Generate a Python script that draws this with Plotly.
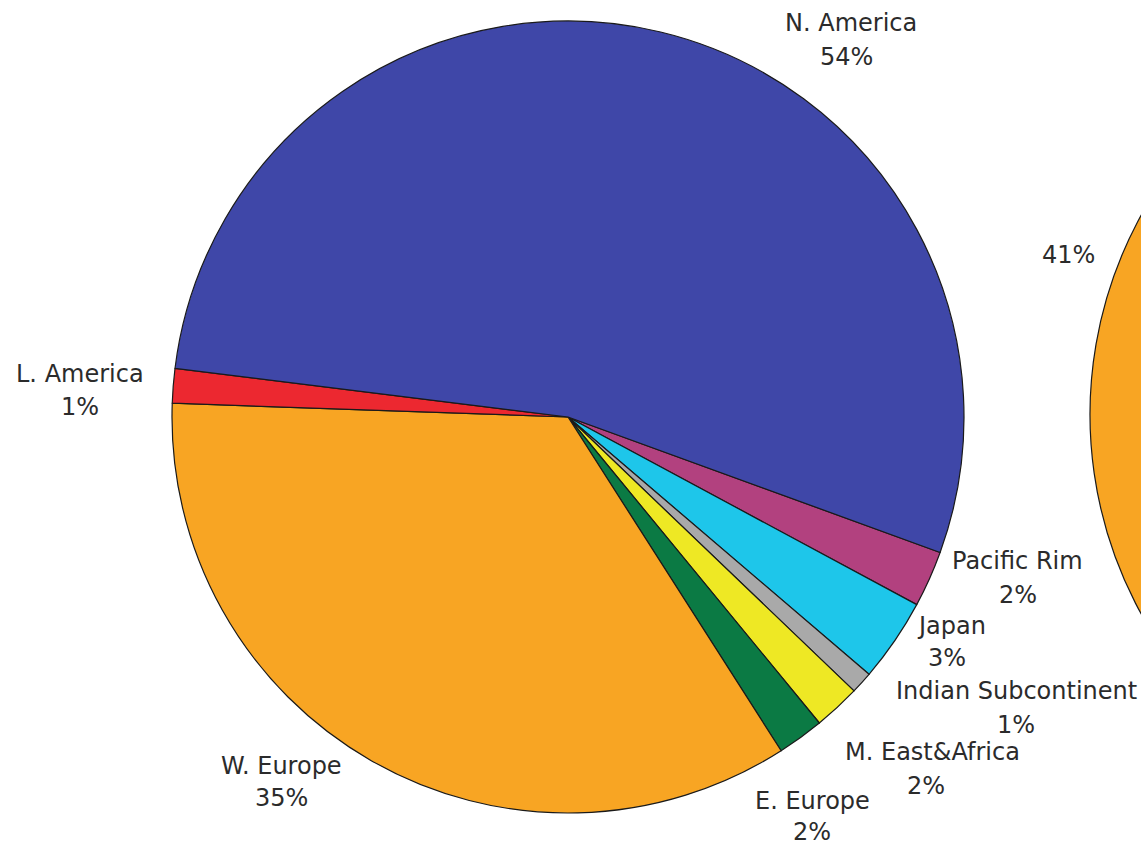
import plotly.graph_objects as go

# ---- data ----
regions = ["Pacific Rim", "Japan", "Indian Subcontinent", "M. East&Africa",
           "E. Europe", "W. Europe", "L. America", "N. America"]
shares = [2.3, 3.4, 0.9, 1.9, 1.9, 34.6, 1.4, 53.6]
colors = ["#B2417F", "#1EC6EA", "#A9A9A9", "#EEE824",
          "#0B7A44", "#F8A523", "#EC2830", "#3F47A8"]

# second (cropped) pie: only the W. Europe slice is visible
regions2 = ["W. Europe", "Other regions"]
shares2 = [41, 59]
colors2 = ["#F8A523", "#3F47A8"]

# ---- layout constants (pixels) ----
W, H = 1920, 846
# (name line centre, percent line centre)
label_px = {
    "N. America": ((851, 23), (846, 57)),
    "L. America": ((80, 374), (80, 407)),
    "W. Europe": ((281, 766), (281, 798)),
    "E. Europe": ((812, 801), (812, 832)),
    "M. East&Africa": ((932, 752), (926, 786)),
    "Indian Subcontinent": ((1016, 691), (1016, 725)),
    "Japan": ((951, 626), (947, 658)),
    "Pacific Rim": ((1018, 561), (1018, 595)),
}
pct2_px = (1068, 255)


def px_to_paper(x, y):
    return x / W, 1 - y / H


fig = go.Figure()
fig.add_trace(go.Pie(
    labels=regions, values=shares, sort=False, direction="clockwise",
    rotation=110, textinfo="none", hoverinfo="label+percent",
    marker=dict(colors=colors, line=dict(color="#1a1a1a", width=1.2)),
    domain=dict(x=[172 / W, 964 / W], y=[33 / H, 825 / H]),
    showlegend=False,
))
fig.add_trace(go.Pie(
    labels=regions2, values=shares2, sort=False, direction="clockwise",
    rotation=-154, textinfo="none", hoverinfo="label+percent",
    marker=dict(colors=colors2, line=dict(color="#1a1a1a", width=1.2)),
    domain=dict(x=[1090 / W, 1918 / W], y=[0.02, 1.0]),
    showlegend=False,
))

total = sum(shares)
annotations = []
for name, v in zip(regions, shares):
    (nx, ny), (px_, py_) = label_px[name]
    for text, (x, y) in ((name, px_to_paper(nx, ny)),
                         (f"{round(v / total * 100)}%", px_to_paper(px_, py_))):
        annotations.append(dict(
            x=x, y=y, xref="paper", yref="paper", showarrow=False,
            xanchor="center", yanchor="middle", text=text,
        ))
x, y = px_to_paper(*pct2_px)
annotations.append(dict(
    x=x, y=y, xref="paper", yref="paper", showarrow=False,
    xanchor="center", yanchor="middle",
    text=f"{round(shares2[0] / sum(shares2) * 100)}%",
))

fig.update_layout(
    width=W, height=H, margin=dict(l=0, r=0, t=0, b=0),
    paper_bgcolor="white", plot_bgcolor="white",
    font=dict(family="DejaVu Sans", size=24, color="#2b2b2b"),
    annotations=annotations,
)

fig.write_html(
    "out.html",
    post_script="document.body.style.margin='0';document.body.style.overflow='hidden';",
)
